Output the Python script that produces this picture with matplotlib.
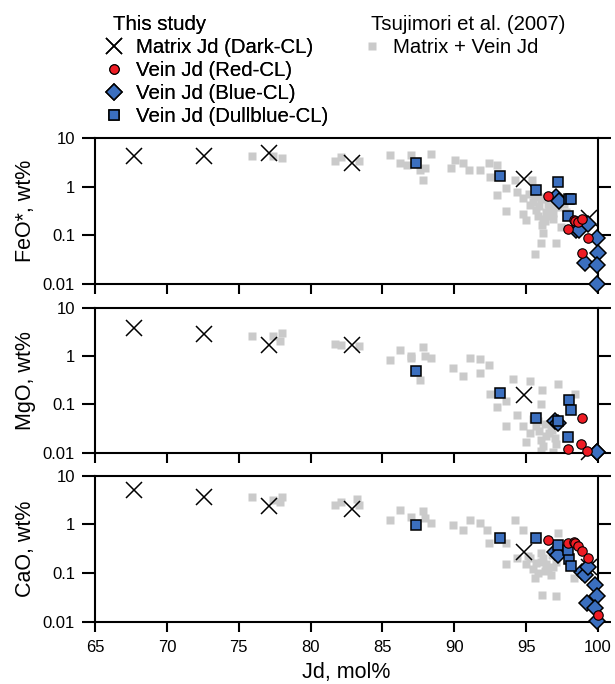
import matplotlib
matplotlib.use("Agg")
import matplotlib.pyplot as plt
from matplotlib.lines import Line2D

plt.rcParams["font.family"] = ["Liberation Sans", "DejaVu Sans"]


# ---------------------------------
# Data
# ---------------------------------

panel_labels = ["FeO*, wt%", "MgO, wt%", "CaO, wt%"]

# Matrix Jd (Dark-CL)
dark_x = [67.7, 72.6, 77.1, 82.9, 94.85, 99.4]
dark_feo = [4.3, 4.2, 5.0, 3.0, 1.44, 0.23]
dark_mgo = [3.76, 2.87, 1.65, 1.65, 0.158, 0.0105]
dark_cao = [5.1, 3.7, 2.4, 2.1, 0.27, 0.135]

# Vein Jd (Red-CL)
red_x_feo = [96.5, 97.9, 98.3, 98.4, 98.6, 98.9, 99.3, 98.9]
red_feo = [0.63, 0.138, 0.21, 0.2, 0.19, 0.22, 0.087, 0.044]
red_x_mgo = [98.9, 97.9, 98.8, 99.2]
red_mgo = [0.052, 0.012, 0.015, 0.011]
red_x_cao = [96.5, 97.9, 98.3, 98.4, 98.6, 98.9, 99.3, 99.97]
red_cao = [0.47, 0.41, 0.44, 0.41, 0.36, 0.28, 0.20, 0.014]

# Vein Jd (Blue-CL)
blue_x_feo = [97.1, 97.3, 98.5, 98.7, 99.3, 99.9, 99.97, 99.1, 99.95, 99.9]
blue_feo = [0.62, 0.51, 0.13, 0.13, 0.17, 0.087, 0.043, 0.027, 0.025, 0.0102]
blue_x_mgo = [97.0, 97.2, 99.9, 99.95]
blue_mgo = [0.045, 0.042, 0.0102, 0.0102]
blue_x_cao = [97.0, 97.2, 98.9, 99.1, 99.3, 99.8, 99.9, 99.2, 99.8, 99.9]
blue_cao = [0.275, 0.235, 0.107, 0.091, 0.135, 0.057, 0.033, 0.024, 0.019, 0.0102]

# Vein Jd (Dullblue-CL)
dull_x = [87.3, 93.2, 95.7, 97.2, 98.0, 98.1, 97.9]
dull_feo = [3.1, 1.66, 0.85, 1.26, 0.55, 0.56, 0.25]
dull_mgo = [0.49, 0.174, 0.052, 0.046, 0.123, 0.075, 0.021]
dull_cao = [0.99, 0.52, 0.52, 0.38, 0.195, 0.14, 0.3]

# Tsujimori et al. (2007): Matrix + Vein Jd
ts_x_feo = [75.9, 77.4, 78.0, 81.7, 82.1, 83.4, 85.5, 86.2, 86.7, 87.0, 87.6,
            87.96, 87.85, 88.4, 89.8, 90.05, 90.6, 91.0, 91.8, 92.4, 93.0, 92.5,
            93.0, 93.6, 93.6, 94.2, 94.35, 94.8, 94.8, 95.0, 95.4, 95.5, 95.7,
            96.2, 96.1, 96.2, 96.0, 95.6, 96.7, 96.85, 97.1, 97.4, 97.6, 96.9,
            97.8, 96.5, 95.9, 96.4, 95.3, 95.8, 96.0, 96.6, 96.3, 96.9, 97.2,
            95.2, 96.5, 97.0, 96.3, 95.6]
ts_feo = [4.3, 4.2, 3.8, 3.3, 4.0, 3.3, 4.5, 3.0, 2.8, 4.5, 2.2,
          2.4, 1.37, 4.6, 2.4, 3.6, 3.0, 2.2, 2.2, 3.0, 2.8, 1.6,
          0.68, 0.93, 0.32, 1.37, 0.79, 0.58, 0.28, 0.21, 1.37, 0.49, 0.33,
          0.22, 0.16, 0.11, 0.069, 0.042, 0.39, 0.29, 0.069, 0.15, 0.45, 0.6,
          0.3, 0.45, 0.4, 0.3, 0.42, 0.25, 0.55, 0.35, 0.2, 0.22, 0.38,
          0.7, 0.25, 0.5, 0.6, 0.6]

ts_x_mgo = [75.9, 77.4, 78.0, 77.9, 81.7, 82.1, 83.4, 85.5, 86.2, 87.0, 87.0,
            87.85, 87.96, 88.4, 87.6, 89.9, 90.6, 91.1, 91.8, 91.8, 92.4, 92.5,
            93.0, 93.6, 94.1, 93.6, 94.35, 94.8, 95.3, 96.1, 96.0, 95.7, 97.2,
            98.4, 95.0, 96.0, 96.9, 96.0, 96.6, 96.3, 96.8, 95.5, 95.9, 96.4,
            97.0, 95.3, 96.2, 96.7, 95.8, 97.1]
ts_mgo = [2.65, 2.6, 2.96, 2.0, 1.76, 1.7, 1.58, 0.83, 1.34, 0.98, 0.9,
          1.5, 1.0, 0.91, 0.32, 0.56, 0.38, 0.91, 0.85, 0.45, 0.66, 0.16,
          0.087, 0.12, 0.34, 0.035, 0.061, 0.035, 0.31, 0.2, 0.1, 0.035, 0.26,
          0.16, 0.017, 0.011, 0.0102, 0.018, 0.025, 0.04, 0.03, 0.05, 0.028,
          0.022, 0.02, 0.025, 0.014, 0.033, 0.045, 0.015]

ts_x_cao = [75.9, 77.4, 78.0, 77.9, 81.7, 82.1, 83.2, 83.4, 85.5, 86.2, 87.0,
            87.85, 88.4, 87.96, 89.9, 90.6, 91.1, 91.8, 92.3, 92.4, 93.6, 94.2,
            94.8, 93.6, 94.35, 95.0, 95.5, 95.6, 96.0, 96.2, 96.7, 97.1, 97.2,
            96.1, 97.1, 98.3, 96.5, 95.8, 95.3, 96.4, 96.9, 95.7, 96.3, 96.8,
            95.1, 96.0]
ts_cao = [3.7, 3.2, 3.6, 2.9, 2.5, 2.9, 3.3, 2.5, 1.23, 2.0, 1.4,
          1.9, 1.05, 1.35, 0.97, 0.77, 1.2, 1.05, 0.77, 0.41, 0.41, 1.23,
          0.77, 0.15, 0.2, 0.15, 0.12, 0.08, 0.17, 0.2, 0.09, 0.17, 0.65,
          0.035, 0.033, 0.08, 0.12, 0.1, 0.2, 0.15, 0.13, 0.16, 0.11, 0.24,
          0.22, 0.26]


# ---------------------------------
# Figure
# ---------------------------------

fig = plt.figure(figsize=(6.15, 6.84), dpi=100)

ax_w = 0.8179
bottoms = [0.5848, 0.3382, 0.0911]
heights = [0.2135, 0.212, 0.2135]

panels = [
    (ts_x_feo, ts_feo, dark_feo, blue_x_feo, blue_feo, dull_feo, red_x_feo, red_feo),
    (ts_x_mgo, ts_mgo, dark_mgo, blue_x_mgo, blue_mgo, dull_mgo, red_x_mgo, red_mgo),
    (ts_x_cao, ts_cao, dark_cao, blue_x_cao, blue_cao, dull_cao, red_x_cao, red_cao),
]

blue = "#3b6fbf"
red = "#ee1c24"
gray = "#cacaca"

axes = []
for i, (tsx, tsy, dy, bx, by, dly, rx, ry) in enumerate(panels):
    ax = fig.add_axes([0.1545, bottoms[i], ax_w, heights[i]])
    axes.append(ax)

    ax.plot(tsx, tsy, "s", color=gray, ms=6, mec="none", zorder=1)
    ax.plot(dark_x, dy, "x", color="black", ms=11, mew=1.1, zorder=2,
            clip_on=False)
    ax.plot(bx, by, "D", color=blue, ms=8.5, mec="black", mew=1.1, zorder=3,
            clip_on=False)
    ax.plot(dull_x, dly, "s", color=blue, ms=6.5, mec="black", mew=1.1,
            zorder=4, clip_on=False)
    ax.plot(rx, ry, "o", color=red, ms=6.8, mec="black", mew=0.8, zorder=5,
            clip_on=False)

    ax.set_yscale("log")
    ax.set_ylim(0.01, 10)
    ax.set_xlim(65, 100)
    ax.set_yticks([0.01, 0.1, 1, 10])
    ax.set_yticklabels(["0.01", "0.1", "1", "10"])
    ax.set_xticks([65, 70, 75, 80, 85, 90, 95, 100])
    ax.minorticks_off()
    ax.tick_params(axis="y", direction="out", length=9.5, width=1.5,
                   right=True, labelsize=12, pad=5)
    ax.tick_params(axis="x", direction="out", length=7.5, width=1.5,
                   top=False, labelsize=12, pad=6)
    for s in ax.spines.values():
        s.set_linewidth(1.5)
    ax.set_ylabel(panel_labels[i], fontsize=15.5, labelpad=5)
    if i < 2:
        ax.tick_params(labelbottom=False)

axes[2].set_xlabel("Jd, mol%", fontsize=15.5, labelpad=5)
fig.align_ylabels(axes)


# ---------------------------------
# Legends
# ---------------------------------

h1 = [
    Line2D([], [], ls="none", marker="x", color="black", ms=11, mew=1.1),
    Line2D([], [], ls="none", marker="o", color=red, ms=6.8, mec="black", mew=0.8),
    Line2D([], [], ls="none", marker="D", color=blue, ms=8.5, mec="black", mew=1.1),
    Line2D([], [], ls="none", marker="s", color=blue, ms=6.5, mec="black", mew=1.1),
]
l1 = ["Matrix Jd (Dark-CL)", "Vein Jd (Red-CL)", "Vein Jd (Blue-CL)",
      "Vein Jd (Dullblue-CL)"]
leg1 = fig.legend(h1, l1, title="This study", loc="upper left",
                  bbox_to_anchor=(0.1835, 0.978), frameon=False, fontsize=14.7,
                  title_fontsize=14.7, handlelength=0.1, handletextpad=1.05,
                  labelspacing=0.2, borderpad=0, borderaxespad=0,
                  alignment="left")
fig.add_artist(leg1)

h2 = [Line2D([], [], ls="none", marker="s", color=gray, ms=6, mec="none")]
leg2 = fig.legend(h2, ["Matrix + Vein Jd"], title="Tsujimori et al. (2007)",
                  loc="upper left", bbox_to_anchor=(0.603, 0.978),
                  frameon=False, fontsize=14.7, title_fontsize=14.7,
                  handlelength=0.1, handletextpad=1.0, labelspacing=0.2,
                  borderpad=0, borderaxespad=0, alignment="left")

fig.savefig("out.png", dpi=100)
